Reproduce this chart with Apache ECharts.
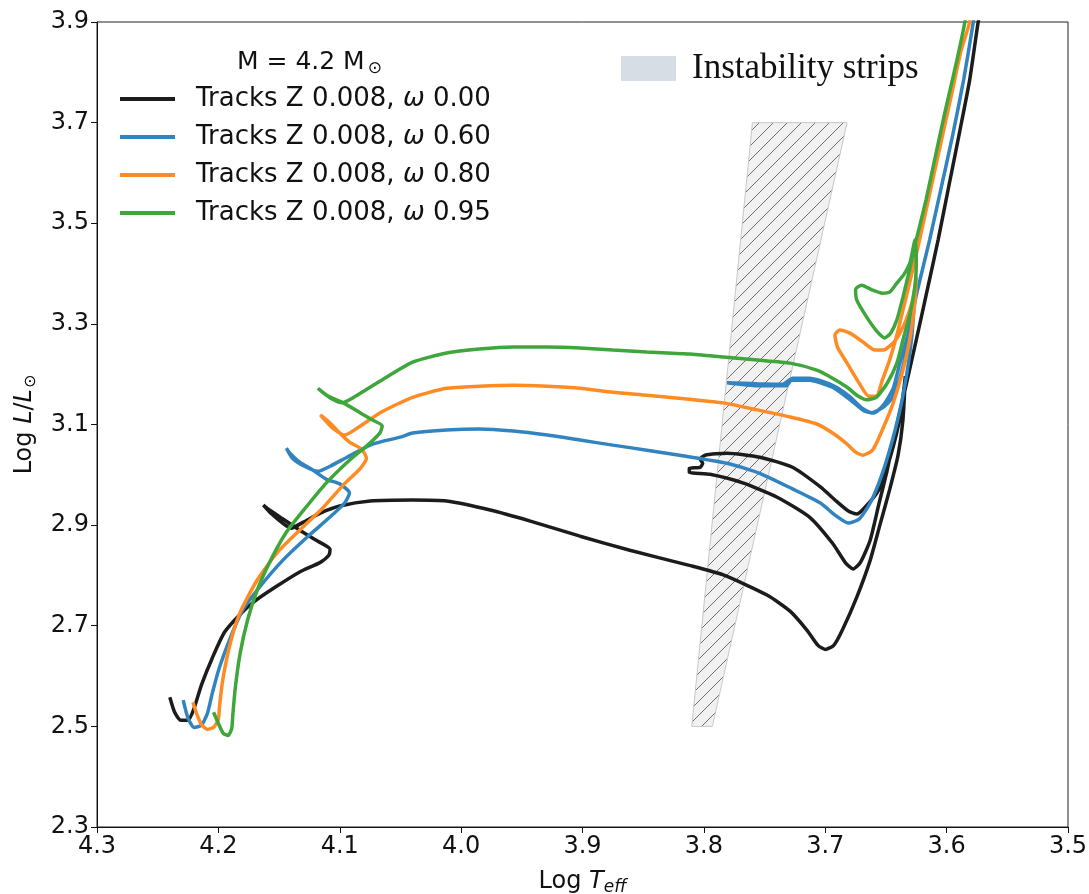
<!DOCTYPE html>
<html>
<head>
<meta charset="utf-8">
<script src="https://cdn.jsdelivr.net/npm/echarts@6/dist/echarts.min.js"></script>
<style>
  html, body { margin: 0; padding: 0; background: #fff; }
  #main { width: 1089px; height: 894px; }
</style>
</head>
<body>
<div id="main"></div>
<script>
// evolutionary tracks, [Log Teff, Log L]
var track000 = [
  [4.240,2.558],[4.236,2.528],[4.231,2.512],[4.225,2.512],[4.220,2.536],[4.214,2.582],[4.205,2.636],
  [4.195,2.687],[4.182,2.723],[4.170,2.749],[4.153,2.777],[4.133,2.807],[4.116,2.826],[4.109,2.840],
  [4.108,2.852],[4.118,2.868],[4.133,2.890],[4.148,2.914],[4.159,2.932],[4.163,2.940],[4.156,2.922],
  [4.146,2.902],[4.140,2.894],[4.130,2.906],[4.116,2.924],[4.100,2.938],[4.075,2.948],[4.040,2.950],
  [4.012,2.948],[3.976,2.930],[3.943,2.908],[3.902,2.878],[3.861,2.850],[3.812,2.820],[3.784,2.801],
  [3.748,2.761],[3.729,2.729],[3.715,2.691],[3.706,2.661],[3.700,2.653],[3.693,2.661],[3.686,2.691],
  [3.674,2.757],[3.663,2.830],[3.655,2.900],[3.647,2.970],[3.640,3.039],[3.636,3.109],[3.634,3.196],
  [3.638,3.119],[3.646,3.039],[3.656,2.970],[3.667,2.936],[3.674,2.922],[3.681,2.928],[3.692,2.950],
  [3.704,2.976],[3.727,3.015],[3.754,3.035],[3.781,3.043],[3.799,3.039],[3.803,3.031],[3.801,3.023],
  [3.803,3.015],[3.812,3.013],[3.812,3.005],[3.795,3.001],[3.768,2.984],[3.740,2.956],[3.713,2.916],
  [3.694,2.864],[3.683,2.824],[3.677,2.813],[3.671,2.826],[3.663,2.870],[3.656,2.940],[3.649,3.009],
  [3.642,3.089],[3.634,3.172],[3.625,3.268],[3.616,3.367],[3.607,3.467],[3.598,3.576],[3.589,3.685],
  [3.581,3.785],[3.574,3.900],[3.568,3.980]
];
var track060 = [
  [4.229,2.552],[4.225,2.516],[4.220,2.498],[4.214,2.502],[4.209,2.526],[4.205,2.566],[4.199,2.618],
  [4.190,2.677],[4.180,2.731],[4.166,2.777],[4.147,2.830],[4.127,2.876],[4.108,2.916],[4.096,2.944],
  [4.092,2.964],[4.100,2.982],[4.111,2.991],[4.122,3.009],[4.133,3.025],[4.141,3.043],[4.144,3.053],
  [4.139,3.033],[4.129,3.017],[4.118,3.007],[4.108,3.017],[4.094,3.035],[4.073,3.061],[4.050,3.075],
  [4.040,3.083],[4.012,3.089],[3.985,3.091],[3.957,3.087],[3.929,3.079],[3.902,3.069],[3.875,3.059],
  [3.847,3.049],[3.820,3.039],[3.781,3.023],[3.754,3.003],[3.727,2.972],[3.704,2.944],[3.692,2.920],
  [3.681,2.904],[3.672,2.912],[3.663,2.944],[3.655,2.989],[3.647,3.049],[3.639,3.123],[3.633,3.198],
  [3.629,3.268],[3.627,3.327],[3.632,3.258],[3.639,3.188],[3.645,3.152],[3.653,3.133],[3.662,3.123],
  [3.670,3.133],[3.680,3.156],[3.694,3.178],[3.713,3.192],[3.727,3.192],[3.731,3.186],[3.735,3.180],
  [3.756,3.181],[3.781,3.183],[3.756,3.177],[3.732,3.177],[3.728,3.188],[3.713,3.188],[3.694,3.174],
  [3.680,3.150],[3.668,3.127],[3.660,3.123],[3.652,3.139],[3.644,3.172],[3.639,3.218],[3.632,3.278],
  [3.624,3.367],[3.614,3.467],[3.604,3.576],[3.595,3.675],[3.586,3.785],[3.578,3.900],[3.573,3.980]
];
var track080 = [
  [4.221,2.548],[4.218,2.526],[4.214,2.504],[4.209,2.494],[4.204,2.498],[4.200,2.514],[4.199,2.542],
  [4.196,2.598],[4.190,2.667],[4.182,2.727],[4.168,2.791],[4.152,2.844],[4.133,2.890],[4.114,2.934],
  [4.097,2.980],[4.083,3.013],[4.078,3.033],[4.082,3.051],[4.092,3.065],[4.100,3.083],[4.108,3.103],
  [4.116,3.119],[4.106,3.093],[4.096,3.079],[4.083,3.097],[4.067,3.123],[4.040,3.154],[4.012,3.172],
  [3.985,3.176],[3.957,3.178],[3.929,3.176],[3.902,3.172],[3.875,3.164],[3.847,3.158],[3.812,3.150],
  [3.784,3.143],[3.756,3.129],[3.729,3.115],[3.707,3.101],[3.694,3.083],[3.682,3.061],[3.675,3.045],
  [3.669,3.039],[3.661,3.049],[3.653,3.089],[3.644,3.143],[3.636,3.208],[3.630,3.274],[3.626,3.347],
  [3.625,3.393],[3.628,3.347],[3.634,3.304],[3.642,3.268],[3.652,3.248],[3.659,3.248],[3.670,3.266],
  [3.680,3.282],[3.688,3.288],[3.692,3.278],[3.690,3.254],[3.682,3.222],[3.672,3.182],[3.664,3.156],
  [3.658,3.156],[3.653,3.188],[3.647,3.228],[3.641,3.278],[3.634,3.347],[3.626,3.427],[3.616,3.536],
  [3.606,3.646],[3.596,3.755],[3.588,3.844],[3.581,3.900],[3.577,3.980]
];
var track095 = [
  [4.204,2.528],[4.200,2.506],[4.196,2.486],[4.192,2.482],[4.189,2.496],[4.188,2.526],[4.186,2.578],
  [4.182,2.646],[4.176,2.711],[4.168,2.771],[4.157,2.830],[4.144,2.886],[4.127,2.938],[4.111,2.984],
  [4.092,3.029],[4.078,3.057],[4.067,3.083],[4.065,3.097],[4.073,3.109],[4.083,3.123],[4.097,3.143],
  [4.111,3.158],[4.118,3.172],[4.106,3.150],[4.098,3.143],[4.083,3.162],[4.067,3.186],[4.040,3.224],
  [4.012,3.242],[3.985,3.250],[3.957,3.254],[3.929,3.254],[3.902,3.252],[3.875,3.248],[3.847,3.244],
  [3.812,3.240],[3.784,3.234],[3.756,3.228],[3.729,3.222],[3.707,3.208],[3.694,3.192],[3.682,3.174],
  [3.674,3.158],[3.666,3.149],[3.658,3.154],[3.649,3.182],[3.641,3.222],[3.636,3.268],[3.630,3.322],
  [3.626,3.377],[3.625,3.427],[3.626,3.467],[3.630,3.423],[3.635,3.399],[3.641,3.381],[3.647,3.363],
  [3.653,3.361],[3.661,3.367],[3.670,3.377],[3.675,3.369],[3.674,3.347],[3.666,3.314],[3.657,3.284],
  [3.651,3.272],[3.646,3.282],[3.641,3.308],[3.636,3.353],[3.630,3.413],[3.625,3.467],[3.617,3.546],
  [3.609,3.636],[3.601,3.725],[3.592,3.819],[3.585,3.900],[3.581,3.980]
];
// instability strip corners
var stripT = [3.810, 3.793, 3.682, 3.760];
var stripL = [2.5, 2.5, 3.7, 3.7];

var names = ['Tracks Z 0.008, ω 0.00', 'Tracks Z 0.008, ω 0.60', 'Tracks Z 0.008, ω 0.80', 'Tracks Z 0.008, ω 0.95'];
var colors = ['#1c1c1c', '#3184bf', '#ff8b25', '#3ea63b'];
var yTicks = [2.3, 2.5, 2.7, 2.9, 3.1, 3.3, 3.5, 3.7, 3.9];

// hatch pattern for the strip
var hatch = document.createElement('canvas');
hatch.width = 14; hatch.height = 14;
var hc = hatch.getContext('2d');
hc.fillStyle = '#f1f1f1';
hc.fillRect(0, 0, 14, 14);
hc.strokeStyle = '#6e6e6e';
hc.lineWidth = 1;
hc.beginPath();
hc.moveTo(-1, 15); hc.lineTo(15, -1);
hc.moveTo(-1, 1); hc.lineTo(1, -1);
hc.moveTo(13, 15); hc.lineTo(15, 13);
hc.stroke();

var font = 'DejaVu Sans';
var myChart = echarts.init(document.getElementById('main'));

var series = [{
    name: 'Instability strips',
    type: 'custom',
    z: 1,
    itemStyle: { color: '#d6dde5' },
    data: stripT.map(function (t, i) { return [t, stripL[i]]; }),
    renderItem: function (params, api) {
        if (params.dataIndex !== 0) return null;
        var pts = stripT.map(function (t, i) { return api.coord([t, stripL[i]]); });
        return {
            type: 'polygon',
            shape: { points: pts },
            style: { fill: { image: hatch, repeat: 'repeat' }, stroke: '#c8c8c8', lineWidth: 1 }
        };
    }
}];
[track000, track060, track080, track095].forEach(function (tr, i) {
    series.push({
        name: names[i],
        type: 'line',
        data: tr,
        showSymbol: false,
        symbol: 'none',
        smooth: 0.2,
        z: 2 + i,
        lineStyle: { color: colors[i], width: 3.5 },
        itemStyle: { color: colors[i] }
    });
});

myChart.setOption({
    animation: false,
    title: {
        left: 232, top: 43,
        text: '{a|M = 4.2 M}{b|⊙}',
        textStyle: {
            rich: {
                a: { fontFamily: font, fontSize: 25, fontWeight: 'normal', color: '#111' },
                b: { fontFamily: font, fontSize: 17, fontWeight: 'normal', color: '#111', padding: [12, 0, 0, 3] }
            }
        }
    },
    legend: [{
        data: names,
        orient: 'vertical',
        left: 120, top: 86,
        padding: 0,
        itemWidth: 55, itemHeight: 4,
        itemGap: 12,
        icon: 'rect',
        selectedMode: false,
        formatter: function (name) {
            var p = name.split('ω');
            return '{t|' + p[0] + '}{w|ω}{r|' + p[1] + '}';
        },
        textStyle: {
            rich: {
                t: { fontFamily: font, fontSize: 26, color: '#111', padding: [0, 0, 0, 16] },
                w: { fontFamily: font, fontSize: 26, color: '#111', fontStyle: 'italic' },
                r: { fontFamily: font, fontSize: 26, color: '#111' }
            }
        }
    }, {
        data: [{ name: 'Instability strips', itemStyle: { color: '#d6dde5' } }],
        left: 621, top: 51,
        padding: 0,
        itemWidth: 55, itemHeight: 25,
        icon: 'rect',
        selectedMode: false,
        textStyle: { fontFamily: 'Liberation Serif', fontSize: 35, color: '#111', padding: [0, 0, 0, 11] }
    }],
    grid: {
        left: 97, right: 21, top: 22, bottom: 67,
        outerBoundsMode: 'none',
        show: true, borderColor: '#222', borderWidth: 1, backgroundColor: 'transparent'
    },
    xAxis: {
        type: 'value',
        inverse: true,
        min: 3.5, max: 4.3, interval: 0.1,
        name: '{n|Log }{i|T}{s|eff}',
        nameLocation: 'middle',
        nameGap: 40,
        nameTextStyle: {
            rich: {
                n: { fontFamily: font, fontSize: 24, color: '#111' },
                i: { fontFamily: font, fontSize: 24, color: '#111', fontStyle: 'italic' },
                s: { fontFamily: font, fontSize: 17, color: '#111', fontStyle: 'italic', padding: [12, 0, 0, 0] }
            }
        },
        axisLine: { lineStyle: { color: '#111', width: 1 } },
        axisTick: { length: 6, lineStyle: { color: '#111' } },
        axisLabel: {
            fontFamily: font, fontSize: 24, color: '#111', margin: 8,
            formatter: function (v) { return v.toFixed(1); }
        },
        splitLine: { show: false }
    },
    yAxis: {
        type: 'value',
        min: 2.3, max: 3.9,
        name: '{n|Log }{i|L}{n|/}{i|L}{s|⊙}',
        nameLocation: 'middle',
        nameGap: 58,
        nameRotate: 90,
        nameTextStyle: {
            rich: {
                n: { fontFamily: font, fontSize: 24, color: '#111' },
                i: { fontFamily: font, fontSize: 24, color: '#111', fontStyle: 'italic' },
                s: { fontFamily: font, fontSize: 16, color: '#111', padding: [12, 0, 0, 1] }
            }
        },
        axisLine: { lineStyle: { color: '#111', width: 1 } },
        axisTick: { length: 6, lineStyle: { color: '#111' }, customValues: yTicks },
        axisLabel: {
            fontFamily: font, fontSize: 24, color: '#111', margin: 8,
            customValues: yTicks,
            formatter: function (v) { return v.toFixed(1); }
        },
        splitLine: { show: false }
    },
    series: series
});
</script>
</body>
</html>
